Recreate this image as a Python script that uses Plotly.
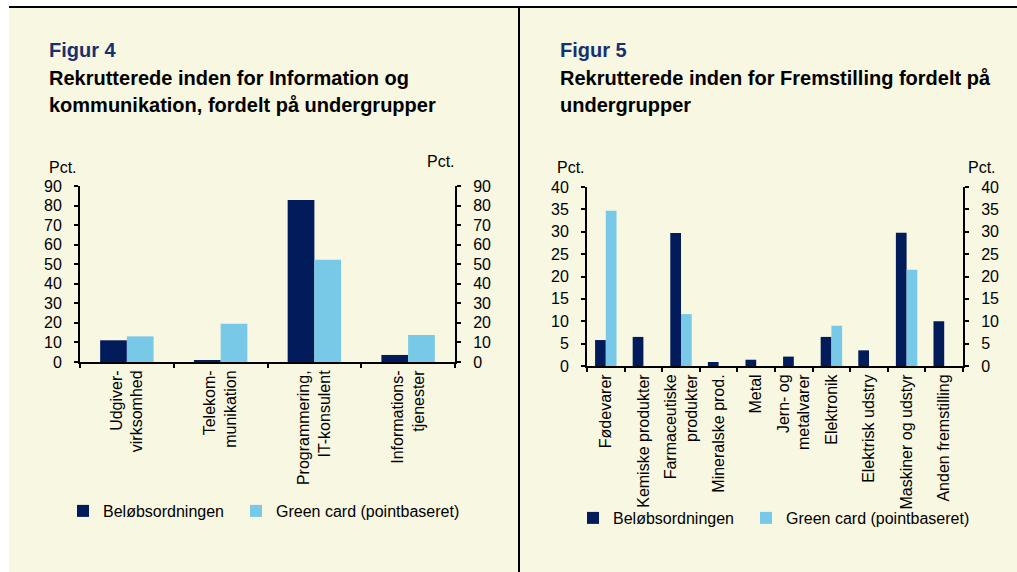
import plotly.graph_objects as go

# Figur 4 - Information og kommunikation
cats4 = ["Udgiver-<br>virksomhed", "Telekom-<br>munikation",
         "Programmering,<br>IT-konsulent", "Informations-<br>tjenester"]
belob4 = [11.1, 1.0, 82.8, 3.6]
green4 = [13.1, 19.6, 52.3, 13.8]

# Figur 5 - Fremstilling
cats5 = ["Fødevarer", "Kemiske produkter", "Farmaceutiske<br>produkter",
         "Mineralske prod.", "Metal", "Jern- og<br>metalvarer", "Elektronik",
         "Elektrisk udstry", "Maskiner og udstyr", "Anden fremstilling"]
belob5 = [5.8, 6.5, 29.7, 0.9, 1.4, 2.1, 6.5, 3.5, 29.8, 10.0]
green5 = [34.7, 0, 11.6, 0, 0, 0, 9.0, 0, 21.5, 0]

W, H = 1017, 572
colors = {
    'cream': '#F8F7E1',
    'dark': '#021B5B',
    'light': '#78C9E8',
    'title': '#17306E',
}
FONT = "Liberation Sans, Arial, sans-serif"


def px(x):
    return max(0, min(1, x / W))


def py(y):
    return max(0, min(1, 1 - y / H))


fig = go.Figure()

fig.add_trace(go.Bar(x=cats4, y=belob4, name="Beløbsordningen",
                     marker=dict(color=colors['dark'], line_width=0),
                     xaxis='x', yaxis='y', legend='legend'))
fig.add_trace(go.Bar(x=cats4, y=green4, name="Green card (pointbaseret)",
                     marker=dict(color=colors['light'], line_width=0),
                     xaxis='x', yaxis='y', legend='legend2'))
fig.add_trace(go.Bar(x=cats5, y=belob5, name="Beløbsordningen",
                     marker=dict(color=colors['dark'], line_width=0),
                     xaxis='x2', yaxis='y2', legend='legend3'))
fig.add_trace(go.Bar(x=cats5, y=green5, name="Green card (pointbaseret)",
                     marker=dict(color=colors['light'], line_width=0),
                     xaxis='x2', yaxis='y2', legend='legend4'))
# usynlige spor, så højre akser bliver tegnet
fig.add_trace(go.Scatter(x=cats4, y=belob4, mode='none', xaxis='x', yaxis='y3',
                         showlegend=False, hoverinfo='skip'))
fig.add_trace(go.Scatter(x=cats5, y=belob5, mode='none', xaxis='x2', yaxis='y4',
                         showlegend=False, hoverinfo='skip'))

axis_style = dict(showline=True, linecolor='black', linewidth=2,
                  ticks='outside', ticklen=4, tickwidth=2, tickcolor='black',
                  showgrid=False, zeroline=False, fixedrange=True,
                  automargin=False,
                  tickfont=dict(size=16, color='black', family=FONT))
xstyle = dict(axis_style, type='category', tickson='boundaries', tickangle=-90)
ystyle = dict(axis_style, ticklabelstandoff=9)

layout_axes = dict(
    xaxis=dict(xstyle, domain=[px(80), px(455)], anchor='y'),
    yaxis=dict(ystyle, domain=[py(362), py(186)], anchor='x',
               range=[0, 90], dtick=10),
    yaxis3=dict(ystyle, overlaying='y', side='right', anchor='x',
                range=[0, 90], dtick=10),
    xaxis2=dict(xstyle, domain=[px(587), px(963)], anchor='y2'),
    yaxis2=dict(ystyle, domain=[py(366), py(187)], anchor='x2',
                range=[0, 40], dtick=5),
    yaxis4=dict(ystyle, overlaying='y2', side='right', anchor='x2',
                range=[0, 40], dtick=5),
)

legend_style = dict(orientation='h', xanchor='left', yanchor='middle',
                    bgcolor='rgba(0,0,0,0)', itemclick=False,
                    itemdoubleclick=False,
                    font=dict(size=16, color='black', family=FONT))

shapes = [
    dict(type='rect', xref='paper', yref='paper', x0=px(9), x1=px(518),
         y0=0, y1=py(7), fillcolor=colors['cream'], line_width=0, layer='below'),
    dict(type='rect', xref='paper', yref='paper', x0=px(520), x1=1,
         y0=0, y1=py(7), fillcolor=colors['cream'], line_width=0, layer='below'),
    dict(type='line', xref='paper', yref='paper', x0=px(9), x1=1,
         y0=py(7), y1=py(7), line=dict(color='black', width=2)),
    dict(type='line', xref='paper', yref='paper', x0=px(519), x1=px(519),
         y0=0, y1=py(7), line=dict(color='black', width=2)),
]


def txt(text, x, y, size=16, bold=False, color='black', xanchor='left'):
    return dict(text=f"<b>{text}</b>" if bold else text, x=px(x), y=py(y),
                xref='paper', yref='paper', xanchor=xanchor, yanchor='middle',
                showarrow=False, borderpad=0,
                font=dict(size=size, color=color, family=FONT))


annotations = [
    txt("Figur 4", 48, 50, 20, True, colors['title']),
    txt("Rekrutterede inden for Information og", 48, 78, 20, True),
    txt("kommunikation, fordelt på undergrupper", 48, 105, 20, True),
    txt("Pct.", 48, 167),
    txt("Pct.", 456, 161, xanchor='right'),
    txt("Figur 5", 559, 50, 20, True, colors['title']),
    txt("Rekrutterede inden for Fremstilling fordelt på", 559, 78, 20, True),
    txt("undergrupper", 559, 105, 20, True),
    txt("Pct.", 556, 167),
    txt("Pct.", 997, 167, xanchor='right'),
]

fig.update_layout(
    width=W, height=H,
    margin=dict(l=0, r=0, t=0, b=0, autoexpand=False),
    paper_bgcolor='white', plot_bgcolor='rgba(0,0,0,0)',
    barmode='group', bargap=0.43, bargroupgap=0,
    font=dict(family=FONT, size=16, color='black'),
    legend=dict(legend_style, x=px(63), y=py(511)),
    legend2=dict(legend_style, x=px(236), y=py(511)),
    legend3=dict(legend_style, x=px(573), y=py(518)),
    legend4=dict(legend_style, x=px(746), y=py(518)),
    shapes=shapes, annotations=annotations,
    **layout_axes,
)

# figuren fastgøres i øverste venstre hjørne, så siden ikke får margener
pin = """
document.body.style.margin = '0';
var gd = document.getElementById('{plot_id}');
gd.style.position = 'fixed';
gd.style.left = '0px';
gd.style.top = '0px';
"""
fig.write_html("out.html", config={'displayModeBar': False}, post_script=pin)
